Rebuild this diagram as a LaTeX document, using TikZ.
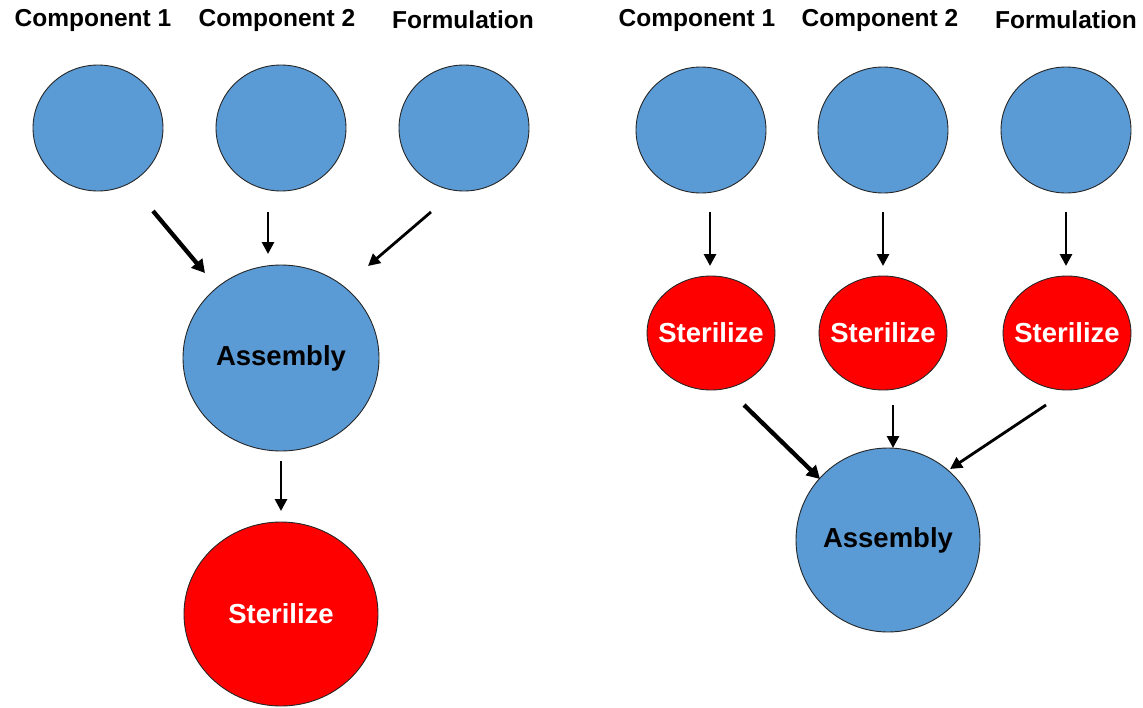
\documentclass[tikz,border=0pt]{standalone}
\usepackage{fontspec}
\setmainfont{Liberation Sans}
\usetikzlibrary{arrows.meta,shapes.geometric}
\definecolor{stepblue}{HTML}{5B9BD5}
\definecolor{stepred}{HTML}{FF0000}
% keep the label from widening the ellipse
\newcommand{\stagetext}[1]{\makebox[0pt]{#1}}
\begin{document}
\begin{tikzpicture}[x=1pt,y=-1pt,
  title/.style={font=\fontsize{24.5}{28}\selectfont\bfseries, text=black},
  stage/.style={ellipse, draw=black!85, line width=0.9pt, inner sep=0pt,
    font=\fontsize{27.5}{32}\selectfont\bfseries},
  bluestage/.style={stage, fill=stepblue, text=black},
  redstage/.style={stage, fill=stepred, text=white},
  flow/.style={draw=black, line width=2.8pt, -{Triangle[length=12pt,width=12pt]}},
  bigflow/.style={draw=black, line width=4.3pt, -{Triangle[length=13pt,width=14pt]}},
]
\useasboundingbox (0,0) rectangle (1143,707);

% ---- left: assemble first, then sterilize ----
\node[title] (lt1) at (93,20) {Component 1};
\node[title] (lt2) at (277,20) {Component 2};
\node[title] (lt3) at (463,20) {Formulation};

\node[bluestage, minimum width=130, minimum height=126] (lc1) at (98,128) {};
\node[bluestage, minimum width=130, minimum height=126] (lc2) at (281,128) {};
\node[bluestage, minimum width=130, minimum height=126] (lc3) at (464,128) {};
\node[bluestage, minimum width=196, minimum height=186] (lasm) at (281,358) {\stagetext{Assembly}};
\node[redstage, minimum width=194, minimum height=184] (lster) at (281,614) {\stagetext{Sterilize}};

\coordinate (la1s) at (153,211); \coordinate (la1e) at (205,273);
\coordinate (la2s) at (268,212); \coordinate (la2e) at (268,254);
\coordinate (la3s) at (431,212); \coordinate (la3e) at (368,266);
\coordinate (la4s) at (281,461); \coordinate (la4e) at (281,511);
\draw[bigflow] (la1s) -- (la1e);
\draw[flow] (la2s) -- (la2e);
\draw[flow] (la3s) -- (la3e);
\draw[flow] (la4s) -- (la4e);

% ---- right: sterilize each part, then assemble ----
\node[title] (rt1) at (697,20) {Component 1};
\node[title] (rt2) at (880,20) {Component 2};
\node[title] (rt3) at (1066,20) {Formulation};

\node[bluestage, minimum width=130, minimum height=126] (rc1) at (701,130) {};
\node[bluestage, minimum width=130, minimum height=126] (rc2) at (883,130) {};
\node[bluestage, minimum width=130, minimum height=126] (rc3) at (1066,130) {};

\node[redstage, minimum width=128, minimum height=114] (rs1) at (711,333) {\stagetext{Sterilize}};
\node[redstage, minimum width=128, minimum height=114] (rs2) at (883,333) {\stagetext{Sterilize}};
\node[redstage, minimum width=128, minimum height=114] (rs3) at (1067,333) {\stagetext{Sterilize}};

\node[bluestage, minimum width=184, minimum height=184] (rasm) at (888,540) {\stagetext{Assembly}};

\coordinate (ra1s) at (710,212); \coordinate (ra1e) at (710,266);
\coordinate (ra2s) at (883,212); \coordinate (ra2e) at (883,266);
\coordinate (ra3s) at (1066,212); \coordinate (ra3e) at (1066,266);
\coordinate (ra4s) at (744,405); \coordinate (ra4e) at (820,479);
\coordinate (ra5s) at (893,405); \coordinate (ra5e) at (893,448);
\coordinate (ra6s) at (1046,405); \coordinate (ra6e) at (950,469);
\draw[flow] (ra1s) -- (ra1e);
\draw[flow] (ra2s) -- (ra2e);
\draw[flow] (ra3s) -- (ra3e);
\draw[bigflow] (ra4s) -- (ra4e);
\draw[flow] (ra5s) -- (ra5e);
\draw[flow] (ra6s) -- (ra6e);
\end{tikzpicture}
\end{document}
